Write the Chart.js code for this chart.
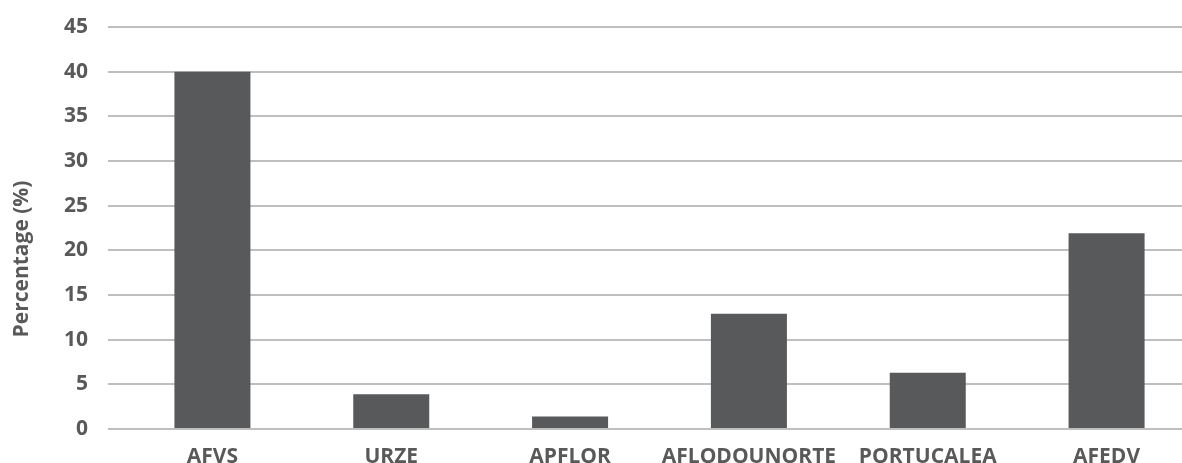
<!DOCTYPE html>
<html>
<head>
<meta charset="utf-8">
<script src="https://cdn.jsdelivr.net/npm/chart.js@4"></script>
<style>
  html, body { margin: 0; padding: 0; background: #ffffff; overflow: hidden; }
  #wrap { width: 1196px; height: 463px; }
</style>
</head>
<body>
<div id="wrap"><canvas id="barChart"></canvas></div>
<script>
// Chart data
const categories = ["AFVS", "URZE", "APFLOR", "AFLODOUNORTE", "PORTUCALEA", "AFEDV"];
const percentages = [40.0, 3.9, 1.4, 12.9, 6.3, 21.9];
const yTicks = [0, 5, 10, 15, 20, 25, 30, 35, 40, 45];
const yTitle = "Percentage (%)";

const textColor = "#595959";
const gridColor = "#bfbfbf";
const barColor = "#58595b";
const fontFamily = "'Open Sans', 'Noto Sans', sans-serif";

// y title sits a little below the middle of the plot, like the original
const yTitlePlugin = {
  id: "yTitle",
  afterDraw(chart) {
    const c = chart.ctx;
    const area = chart.chartArea;
    c.save();
    c.translate(22, (area.top + area.bottom) / 2 + 31);
    c.rotate(-Math.PI / 2);
    c.font = "bold 21px " + fontFamily;
    c.fillStyle = textColor;
    c.textAlign = "center";
    c.textBaseline = "middle";
    c.fillText(yTitle, 0, 0);
    c.restore();
  },
};

const ctx = document.getElementById("barChart").getContext("2d");

new Chart(ctx, {
  type: "bar",
  data: {
    labels: categories,
    datasets: [
      {
        label: "Percentage",
        data: percentages,
        backgroundColor: barColor,
        borderWidth: 0,
        categoryPercentage: 1.0,
        barPercentage: 0.425,
      },
    ],
  },
  options: {
    responsive: true,
    maintainAspectRatio: false,
    animation: false,
    layout: {
      padding: { top: 27, right: 0, bottom: 0, left: 0 },
    },
    plugins: {
      legend: { display: false },
      tooltip: { enabled: false },
    },
    scales: {
      x: {
        grid: { display: false },
        border: { display: false },
        ticks: {
          color: textColor,
          padding: 7,
          maxRotation: 0,
          autoSkip: false,
          font: { family: fontFamily, size: 21, weight: "bold" },
        },
        afterFit: (scale) => {
          scale.height = 34;
        },
      },
      y: {
        min: 0,
        max: 45,
        afterBuildTicks: (scale) => {
          scale.ticks = yTicks.map((v) => ({ value: v }));
        },
        grid: {
          color: gridColor,
          lineWidth: 2,
          drawTicks: true,
          tickLength: 15, // gridlines run a bit left of the first category
        },
        border: { display: false },
        ticks: {
          color: textColor,
          padding: 20,
          font: { family: fontFamily, size: 21, weight: "bold" },
        },
        afterFit: (scale) => {
          scale.width = 123;
          scale.paddingTop = 0;
          scale.paddingBottom = 0;
        },
      },
    },
  },
  plugins: [yTitlePlugin],
});
</script>
</body>
</html>
